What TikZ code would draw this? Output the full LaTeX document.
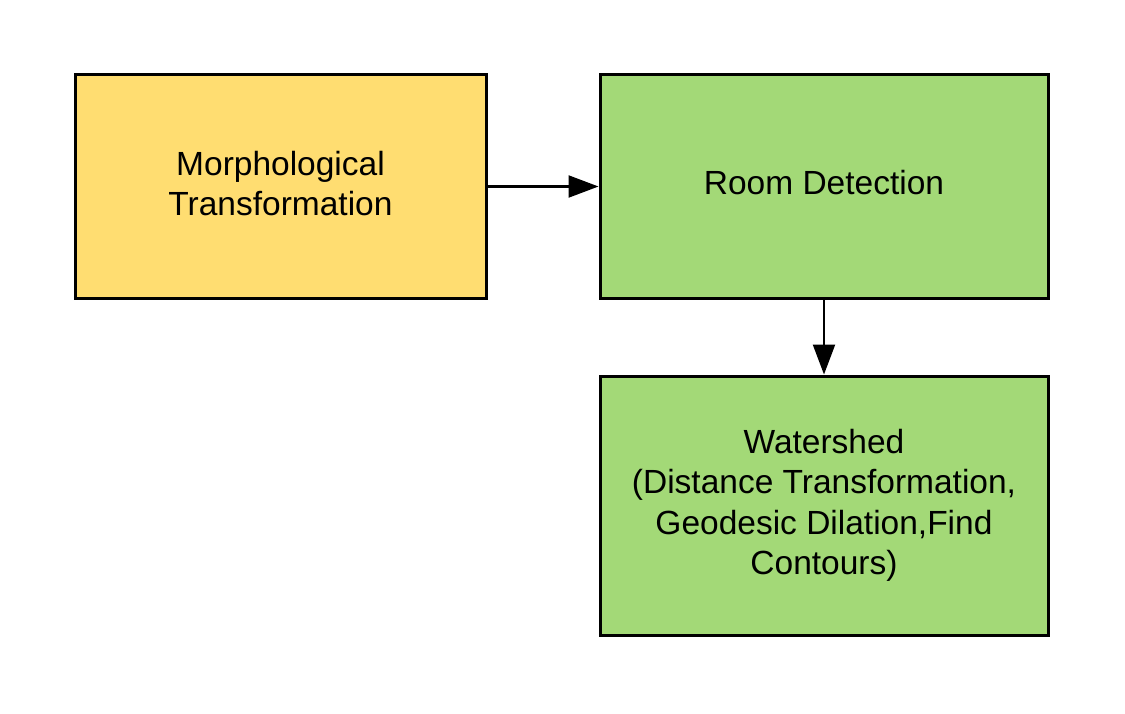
\documentclass[tikz,border=0pt]{standalone}
\usepackage{fontspec}
\setmainfont{Liberation Sans}
\usetikzlibrary{arrows.meta}
\definecolor{ylw}{HTML}{FFDD71}
\definecolor{grn}{HTML}{A3D977}
\tikzset{
  box/.style={draw=black, line width=3pt, align=center, font=\fontsize{33.5}{40.5}\selectfont, inner sep=0pt},
  conn/.style={line width=2.2pt, -{Triangle[length=30pt,width=22pt]}}
}
\begin{document}
\begin{tikzpicture}[x=1pt,y=-1pt]
\useasboundingbox (0,0) rectangle (1125,713);
\node[box, fill=ylw, minimum width=411pt, minimum height=224pt] (mt) at (280.5,186.5) {};
\node[box, fill=grn, minimum width=448pt, minimum height=224pt] (rd) at (824,186.5) {};
\node[box, fill=grn, minimum width=448pt, minimum height=259pt] (ws) at (824,505.5) {};
\node[box, draw=none, anchor=center] (mtt) at ([yshift=3pt]mt.center) {Morphological\\Transformation};
\node[box, draw=none, anchor=center] (rdt) at ([yshift=4pt]rd.center) {Room Detection};
\node[box, draw=none, anchor=center] (wst) at ([yshift=0pt]ws.center) {Watershed\\(Distance Transformation,\\Geodesic Dilation,Find\\Contours)};
\draw[conn] (mt.east) -- (rd.west);
\draw[conn] (rd.south) -- (ws.north);
\end{tikzpicture}
\end{document}
